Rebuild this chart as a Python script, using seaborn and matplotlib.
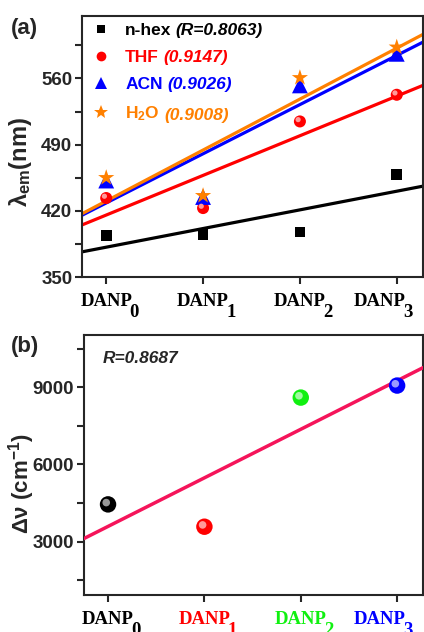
import numpy as np
import pandas as pd
import matplotlib
matplotlib.use('Agg')
import matplotlib.pyplot as plt
import matplotlib.transforms as mtransforms
from matplotlib.lines import Line2D
from matplotlib.colors import to_rgb
import seaborn as sns

# ---- data ----
compounds = ['0', '1', '2', '3']  # DANP subscripts
x_pos = [0, 1, 2, 3]

hex_em = [393.7, 394.7, 397.6, 458.5]
thf_em = [433.5, 422.9, 514.5, 542.7]
acn_em = [452.0, 434.6, 552.6, 586.0]
h2o_em = [455.0, 436.0, 560.7, 593.0]

solvent_names = ['n-hex', 'THF', 'ACN', 'H$_2$O']
r_labels = ['(R=0.8063)', '(0.9147)', '(0.9026)', '(0.9008)']

stokes_shift = [4450, 3583, 8598, 9065]
r_stokes = 'R=0.8687'

# ---- style ----
sns.set_style('ticks')
plt.rcParams['font.family'] = ['Liberation Sans', 'DejaVu Sans']
plt.rcParams['font.weight'] = 'bold'
plt.rcParams['mathtext.fontset'] = 'custom'
plt.rcParams['mathtext.rm'] = 'Liberation Sans:bold'
plt.rcParams['mathtext.bf'] = 'Liberation Sans:bold'
plt.rcParams['mathtext.it'] = 'Liberation Sans:bold:italic'
plt.rcParams['axes.linewidth'] = 1.5

solvent_colors = ['black', '#FF0000', '#0000FF', '#FF8000']
solvent_markers = ['s', 'o', '^', '*']
solvent_sizes = [60, 75, 130, 150]
danp_colors = ['black', '#FF0000', '#10F010', '#0000FF']
fit_color = '#F5145A'


def lighter(c, f=0.6):
    r, g, b = to_rgb(c)
    return (r + (1 - r) * f, g + (1 - g) * f, b + (1 - b) * f)


def add_highlight(ax, fig, x, y, colors, size):
    """Fake sphere shading: a small lighter dot shifted up-left"""
    tr = mtransforms.offset_copy(ax.transData, fig=fig, x=-1.3, y=1.3, units='points')
    ax.scatter(x, y, s=size, c=[lighter(c) for c in colors], lw=0,
               transform=tr, zorder=5)


def style_axis(ax, xlim, ylim, major, minor):
    ax.set_xlim(*xlim)
    ax.set_ylim(*ylim)
    ax.set_yticks(major)
    ax.set_yticks(minor, minor=True)
    for s in ax.spines.values():
        s.set_visible(True)
        s.set_linewidth(1.5)
    ax.tick_params(axis='both', which='both', direction='out', length=5,
                   width=1.5, top=False, right=False)
    ax.tick_params(axis='y', labelsize=13.5, pad=2)
    ax.tick_params(axis='x', pad=6.5)


def danp_ticks(ax, colors):
    ax.set_xticks(x_pos, ['DANP'] * len(x_pos))
    for lab, c in zip(ax.get_xticklabels(), colors):
        lab.set_fontfamily('Liberation Serif')
        lab.set_fontweight('bold')
        lab.set_fontsize(13.5)
        lab.set_color(c)


def danp_subscripts(ax, colors):
    labs = ax.get_xticklabels()
    # last label sits shifted left so it stays inside the figure
    labs[-1].set_transform(labs[-1].get_transform() +
                           mtransforms.ScaledTranslation(-17 / 100, 0, fig.dpi_scale_trans))
    # big, low subscripts like the original figure
    for lab, s, c in zip(labs, compounds, colors):
        ax.annotate(s, xy=(1, 0), xycoords=lab, xytext=(-2.0, -5.0),
                    textcoords='offset points', ha='left', va='baseline',
                    fontfamily='Liberation Serif', fontweight='bold',
                    fontsize=13.5, color=c, zorder=6, annotation_clip=False)


fig = plt.figure(figsize=(4.24, 6.32), dpi=100)
ax_a = fig.add_axes([0.1934, 0.5617, 0.804, 0.413])
ax_b = fig.add_axes([0.198, 0.0585, 0.800, 0.4115])

xlim = (-0.25, 3.27)

# ---- panel (a) ----
style_axis(ax_a, xlim, (350, 626), [350, 420, 490, 560], [385, 455, 525, 595])
series = [hex_em, thf_em, acn_em, h2o_em]
for vals, col, mk, sz in zip(series, solvent_colors, solvent_markers, solvent_sizes):
    df = pd.DataFrame({'x': x_pos, 'y': vals})
    sns.regplot(data=df, x='x', y='y', ax=ax_a, scatter=False, ci=None,
                truncate=False, color=col, line_kws={'lw': 2.3, 'zorder': 2})
    sns.scatterplot(data=df, x='x', y='y', ax=ax_a, marker=mk, s=sz,
                    color=col, edgecolor='none', linewidth=0, zorder=4)
add_highlight(ax_a, fig, x_pos, thf_em, [solvent_colors[1]] * 4, 14)
ax_a.set_xlim(*xlim)
danp_ticks(ax_a, ['black'] * 4)
ax_a.set_xlabel('')
ax_a.set_ylabel('λ$_\\mathregular{em}$(nm)', fontsize=17, fontweight='bold')
ax_a.yaxis.set_label_coords(-0.141, 0.44)

handles = [Line2D([], [], ls='', marker=m, color=c, markersize=ms, markeredgewidth=0)
           for m, c, ms in zip(solvent_markers, solvent_colors, [6, 7, 9, 10])]
leg = ax_a.legend(handles, solvent_names, loc='upper left',
                  bbox_to_anchor=(0.03, 0.975), frameon=False, borderpad=0,
                  borderaxespad=0, handlelength=1.0, handletextpad=0.9,
                  labelspacing=0.70, prop={'size': 12.5, 'weight': 'bold'},
                  labelcolor=solvent_colors)

# ---- panel (b) ----
style_axis(ax_b, xlim, (930, 11030), [3000, 6000, 9000], [1500, 4500, 7500, 10500])
df_b = pd.DataFrame({'x': x_pos, 'y': stokes_shift, 'compound': compounds})
sns.regplot(data=df_b, x='x', y='y', ax=ax_b, scatter=False, ci=None,
            truncate=False, color=fit_color, line_kws={'lw': 2.5, 'zorder': 3})
sns.scatterplot(data=df_b, x='x', y='y', ax=ax_b, hue='compound',
                palette=danp_colors, s=140, edgecolor='none', linewidth=0,
                legend=False, zorder=4)
add_highlight(ax_b, fig, x_pos, stokes_shift, danp_colors, 30)
ax_b.set_xlim(*xlim)
danp_ticks(ax_b, danp_colors)
ax_b.set_xlabel('')
ax_b.set_ylabel('Δν (cm$^{-1}$)', fontsize=16, fontweight='bold')
ax_b.yaxis.set_label_coords(-0.139, 0.43)
ax_b.text(0.056, 0.908, r_stokes, transform=ax_b.transAxes, fontsize=12.5,
          fontweight='bold', fontstyle='italic', va='center', ha='left')

fig.text(0.025, 0.955, '(a)', fontsize=16, fontweight='bold', va='center')
fig.text(0.025, 0.451, '(b)', fontsize=16, fontweight='bold', va='center')

# lay out legend and tick labels once, then hang the extra texts on them
fig.canvas.draw()
for txt, r, c in zip(leg.get_texts(), r_labels, solvent_colors):
    ax_a.annotate(r, xy=(1, 0), xycoords=txt, xytext=(3, 0),
                  textcoords='offset points', ha='left', va='bottom',
                  fontsize=12.5, fontweight='bold', fontstyle='italic',
                  color=c, zorder=6)
danp_subscripts(ax_a, ['black'] * 4)
danp_subscripts(ax_b, danp_colors)

fig.savefig('out.png', dpi=100)
